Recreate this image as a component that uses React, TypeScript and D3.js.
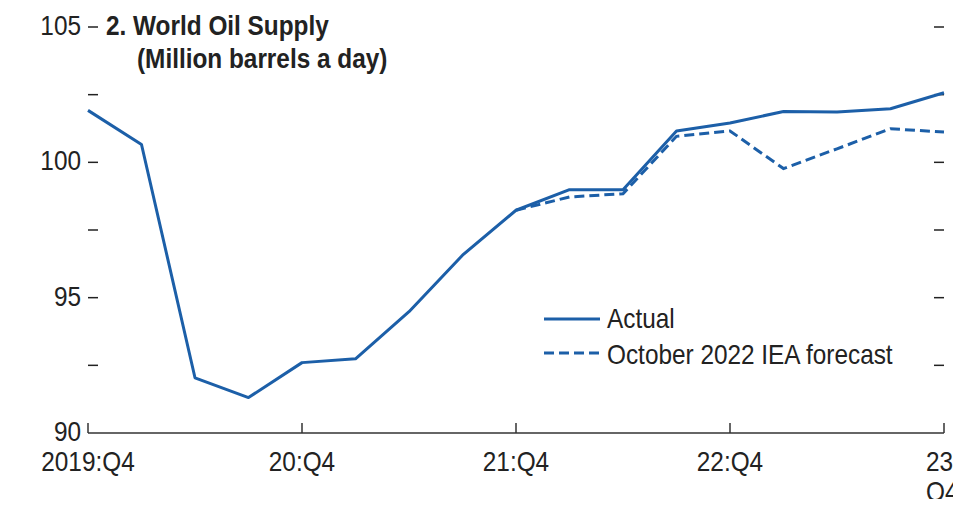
import * as React from 'react';
import { scaleLinear, line } from 'd3';

// quarters from 2019:Q4 to 2023:Q4
const quarters = ['2019:Q4', '20:Q1', '20:Q2', '20:Q3', '20:Q4', '21:Q1', '21:Q2', '21:Q3', '21:Q4',
    '22:Q1', '22:Q2', '22:Q3', '22:Q4', '23:Q1', '23:Q2', '23:Q3', '23:Q4'];
const actual = [101.92, 100.66, 92.04, 91.31, 92.6, 92.74, 94.48, 96.57, 98.23,
    98.99, 98.99, 101.16, 101.45, 101.88, 101.86, 101.98, 102.57];
// October 2022 IEA forecast, from 21:Q4 on
const forecastStart = 8;
const forecast = [98.23, 98.72, 98.84, 100.96, 101.16, 99.77, 100.5, 101.24, 101.12];
const majorTicks = [90, 95, 100, 105];
const minorTicks = [92.5, 97.5, 102.5];
const xTickIdx = [0, 4, 8, 12, 16];
const xTickLabels = [['2019:Q4'], ['20:Q4'], ['21:Q4'], ['22:Q4'], ['23:', 'Q4']];

const BLUE = '#1c5fa8';
const FONT = '"Liberation Sans", Arial, sans-serif';
const SX = 0.87; // condensed look

// text squeezed horizontally around its anchor point
const T = ({ x, y, children, anchor = 'start', bold = false, size = 28 }: any) => (
    <text transform={`translate(${x},${y}) scale(${SX},1)`} textAnchor={anchor} fontSize={size}
        fontWeight={bold ? 'bold' : 'normal'} fill="#222">{children}</text>
);

const App = () => {
    const width = 961;
    const height = 507;
    const margin = { left: 88, right: 17, top: 27, bottom: 74 };

    const x = scaleLinear().domain([0, quarters.length - 1]).range([margin.left, width - margin.right]);
    const y = scaleLinear().domain([90, 105]).range([height - margin.bottom, margin.top]);

    const lineGen = line<number>().x((d, i) => x(i)).y(d => y(d));
    const fLine = line<number>().x((d, i) => x(i + forecastStart)).y(d => y(d));

    const x0 = x(0);
    const x1 = x(quarters.length - 1);
    const yBase = y(90);

    return (
        <div style={{ margin: -8 }}>
            <svg width={width} height={height} style={{ display: 'block', background: 'white' }} fontFamily={FONT}>
                {/* y ticks left and right */}
                {majorTicks.concat(minorTicks).filter(v => v !== 90).map(v => (
                    <g key={v}>
                        <line x1={x0} x2={x0 + 10} y1={y(v)} y2={y(v)} stroke="#222" strokeWidth={1.5} />
                        <line x1={x1 - 10} x2={x1} y1={y(v)} y2={y(v)} stroke="#222" strokeWidth={1.5} />
                    </g>
                ))}
                {majorTicks.map(v => (
                    <T key={v} x={81} y={y(v) + 8} anchor="end">{v}</T>
                ))}
                {/* x axis */}
                <line x1={x0} x2={x1} y1={yBase} y2={yBase} stroke="#333" strokeWidth={1.5} />
                {xTickIdx.map((q, i) => (
                    <g key={q}>
                        <line x1={x(q)} x2={x(q)} y1={yBase} y2={yBase - 10} stroke="#333" strokeWidth={1.5} />
                        {xTickLabels[i].map((t, j) => (
                            <T key={t} x={i === 4 ? 926 : x(q)} y={yBase + 38 + j * 30}
                                anchor={i === 4 ? 'start' : 'middle'}>{t}</T>
                        ))}
                    </g>
                ))}
                {/* title */}
                <T x={106} y={35} bold>2. World Oil Supply</T>
                <T x={137} y={68} bold>(Million barrels a day)</T>
                {/* series */}
                <path d={fLine(forecast) || ''} fill="none" stroke={BLUE} strokeWidth={3} strokeDasharray="10 5" />
                <path d={lineGen(actual) || ''} fill="none" stroke={BLUE} strokeWidth={3} strokeLinejoin="round" />
                {/* legend */}
                <line x1={544} x2={600} y1={319} y2={319} stroke={BLUE} strokeWidth={3} />
                <T x={607} y={328}>Actual</T>
                <line x1={544} x2={600} y1={353} y2={353} stroke={BLUE} strokeWidth={3} strokeDasharray="10 5" />
                <T x={607} y={364}>October 2022 IEA forecast</T>
            </svg>
        </div>
    );
};

export default App;
